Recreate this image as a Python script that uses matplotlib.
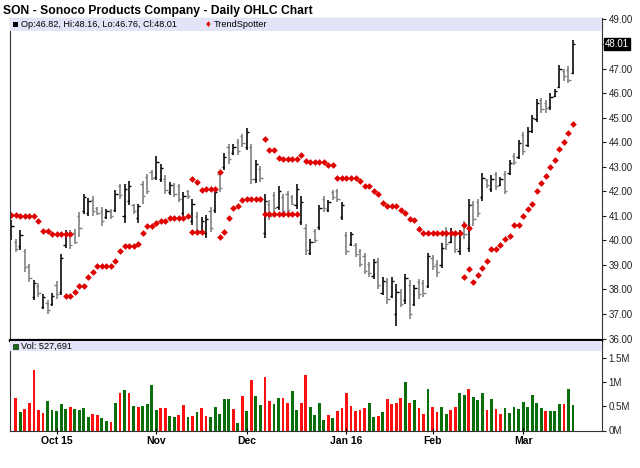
import matplotlib
matplotlib.use("Agg")
import matplotlib.pyplot as plt
import numpy as np
import pandas as pd
from matplotlib.patches import Rectangle

plt.rcParams["font.family"] = ["Liberation Sans", "DejaVu Sans"]

# ---- data (SON daily, 2015-09-17 .. 2016-03-16) ----
holidays = ["2015-11-26", "2015-12-25", "2016-01-01", "2016-01-18", "2016-02-15"]
dates = pd.bdate_range("2015-09-17", "2016-03-16", freq="C", holidays=holidays)
month_labels = ["Oct 15", "Nov", "Dec", "Jan 16", "Feb", "Mar"]

opens = [40.20, 39.95, 39.75, 39.55, 38.95, 37.70, 38.15, 37.30, 37.45, 37.40,
         38.20, 37.90, 39.80, 40.30, 40.30, 41.00, 41.20, 41.10, 41.65, 41.30,
         41.20, 40.95, 41.20, 41.25, 42.20, 41.00, 41.60, 41.45, 40.90, 42.30,
         42.60, 42.80, 42.60, 42.50, 42.50, 41.95, 42.25, 42.20, 41.10, 42.00,
         40.80, 41.00, 40.40, 40.30, 41.20, 41.25, 42.70, 43.00, 43.80, 43.55,
         44.00, 44.25, 43.80, 43.80, 42.50, 42.90, 40.30, 41.50, 41.85, 41.35,
         41.75, 41.90, 41.75, 41.45, 40.75, 40.50, 39.50, 40.40, 40.55, 41.70,
         41.25, 41.95, 42.00, 40.95, 40.20, 39.85, 39.80, 39.55, 39.35, 39.05,
         38.55, 39.15, 37.85, 38.30, 37.75, 37.00, 37.90, 37.55, 38.20, 37.40,
         38.30, 38.25, 38.15, 39.30, 39.05, 39.00, 40.40, 39.95, 40.20, 39.55,
         40.65, 39.70, 41.50, 41.55, 41.75, 42.45, 42.10, 42.70, 42.25, 42.70,
         42.75, 43.45, 43.40, 44.30, 43.90, 44.45, 44.95, 45.70, 45.60, 45.45,
         45.90, 46.25, 46.90, 46.95, 46.82]
highs = [40.82, 40.07, 40.41, 39.66, 39.05, 38.40, 38.26, 37.80, 37.55, 37.85,
         38.34, 39.43, 40.41, 40.41, 40.48, 41.16, 41.90, 41.74, 41.80, 41.36,
         41.36, 41.29, 41.29, 42.04, 42.31, 42.31, 42.41, 41.50, 41.50, 42.42,
         42.72, 42.88, 43.43, 43.10, 42.65, 42.38, 42.34, 42.31, 41.97, 42.07,
         41.70, 41.16, 40.95, 41.02, 41.36, 42.11, 42.79, 43.54, 43.92, 43.92,
         44.11, 44.35, 44.56, 43.92, 43.27, 43.02, 41.88, 41.63, 41.97, 42.20,
         41.88, 42.01, 41.84, 42.31, 41.80, 40.68, 40.07, 40.48, 41.43, 41.80,
         41.66, 42.04, 42.11, 41.55, 40.34, 40.34, 39.88, 39.66, 39.47, 39.12,
         39.25, 39.30, 38.49, 38.46, 38.49, 38.23, 38.03, 38.64, 38.37, 38.20,
         38.44, 38.37, 39.50, 39.41, 39.18, 39.88, 40.53, 40.50, 40.32, 40.43,
         40.78, 41.70, 41.62, 41.68, 42.75, 42.52, 42.65, 42.79, 42.59, 42.82,
         43.27, 43.54, 44.10, 44.42, 44.60, 45.10, 45.74, 45.78, 45.71, 45.99,
         46.15, 47.14, 47.00, 47.10, 48.16]
lows = [40.00, 39.52, 39.59, 38.71, 38.30, 37.55, 37.71, 37.21, 37.01, 37.31,
        37.62, 37.76, 39.70, 39.66, 39.84, 40.14, 41.06, 40.98, 40.98, 41.02,
        40.57, 40.88, 40.88, 41.16, 41.70, 40.71, 41.43, 41.09, 40.71, 41.50,
        41.90, 42.45, 42.45, 42.38, 41.90, 41.84, 41.77, 41.57, 40.95, 41.70,
        40.61, 40.25, 40.27, 40.11, 40.34, 41.12, 41.97, 42.88, 43.13, 43.47,
        43.47, 43.81, 43.67, 42.29, 42.34, 42.38, 40.11, 40.82, 41.09, 41.22,
        41.02, 41.06, 41.43, 41.29, 40.61, 39.39, 39.39, 39.89, 40.41, 41.16,
        41.16, 41.63, 41.57, 40.84, 39.39, 39.79, 39.32, 38.91, 38.62, 38.50,
        38.44, 38.00, 37.76, 37.40, 37.66, 36.53, 37.28, 37.42, 36.80, 37.31,
        37.62, 37.69, 38.04, 38.78, 38.50, 38.87, 39.62, 39.89, 39.49, 39.41,
        40.07, 39.52, 40.60, 40.95, 41.59, 42.15, 41.97, 42.07, 42.21, 41.89,
        42.67, 43.05, 43.30, 43.47, 43.80, 44.38, 44.83, 45.17, 45.20, 45.33,
        45.85, 46.19, 46.50, 46.42, 46.76]
closes = [40.60, 39.65, 40.20, 38.90, 38.45, 38.25, 37.85, 37.70, 37.15, 37.75,
          37.80, 39.30, 40.30, 39.80, 39.95, 40.50, 41.75, 41.60, 41.20, 41.10,
          40.80, 41.20, 41.00, 41.90, 41.85, 42.10, 42.20, 41.20, 41.40, 41.80,
          42.00, 42.55, 43.20, 42.95, 42.05, 42.25, 41.90, 41.70, 41.80, 41.80,
          41.50, 40.40, 40.80, 40.85, 40.50, 41.95, 42.15, 43.40, 43.30, 43.80,
          43.65, 43.95, 44.40, 42.50, 43.10, 42.55, 41.60, 41.00, 41.30, 42.00,
          41.20, 41.25, 41.50, 42.10, 41.55, 39.60, 39.95, 40.00, 41.30, 41.30,
          41.55, 41.75, 41.70, 41.45, 39.55, 40.25, 39.45, 39.05, 38.75, 38.65,
          39.10, 38.20, 38.35, 37.60, 38.35, 37.90, 37.40, 38.45, 37.00, 38.05,
          37.80, 37.85, 39.35, 38.95, 38.70, 39.70, 39.85, 40.35, 39.65, 40.30,
          40.25, 41.45, 40.85, 41.10, 42.55, 42.25, 42.50, 42.20, 42.50, 42.00,
          43.15, 43.20, 43.95, 43.65, 44.45, 45.00, 45.60, 45.35, 45.40, 45.85,
          46.10, 47.00, 46.70, 46.55, 48.01]

# TrendSpotter dots (two overlapping runs)
ts_upper = ([41.02, 41.02, 40.98, 40.98, 40.98, 40.98, 40.79, 40.37, 40.37, 40.27,
             40.27, 40.27, 40.25, 40.25]
            + [None] * 26
            + [42.52, 42.37, 42.07, 42.11, 42.11, 42.11, 42.79]
            + [None] * 9
            + [44.15, 43.70, 43.70, 43.37, 43.30, 43.30, 43.30, 43.30, 43.47, 43.22,
               43.20, 43.20, 43.20, 43.20, 43.09, 43.09, 42.56, 42.56, 42.56, 42.56,
               42.56, 42.41, 42.22, 42.22, 42.03, 41.88, 41.52, 41.39, 41.39, 41.39,
               41.23, 41.10, 40.87, 40.83, 40.46, 40.31, 40.31, 40.31, 40.31, 40.31,
               40.31, 40.31, 40.31, 40.31, 40.61, 40.49]
            + [None] * 23)
ts_lower = ([None] * 12
            + [37.74, 37.74, 37.88, 38.12, 38.15, 38.50, 38.70, 38.97, 38.97, 38.97,
               38.97, 39.16, 39.57, 39.76, 39.76, 39.76, 39.84, 40.30, 40.57, 40.57,
               40.71, 40.79, 40.79, 40.90, 40.90, 40.90, 40.93, 40.98, 40.34, 40.34,
               40.34]
            + [None] * 3
            + [40.13, 40.34, 40.91, 41.32, 41.40, 41.66, 41.70, 41.70, 41.70, 41.70,
               41.09, 41.09, 41.09, 41.09, 41.09, 41.09, 41.09, 41.09]
            + [None] * 36
            + [38.51, 38.83, 38.30, 38.58, 38.89, 39.16, 39.66, 39.66, 39.83, 40.05,
               40.16, 40.61, 40.61, 40.98, 41.28, 41.50, 42.01, 42.35, 42.61, 42.97,
               43.29, 43.73, 44.00, 44.38, 44.76])

# volume in millions (first bar has no visible volume)
volume = [None,
          0.68, 0.375, 0.45, 0.57, 1.25, 0.43, 0.36, 0.62, 0.43, 0.41,
          0.54, 0.45, 0.49, 0.45, 0.43, 0.47, 0.29, 0.35, 0.33, 0.26,
          0.20, 0.17, 0.58, 0.78, 0.83, 0.78, 0.51, 0.49, 0.51, 0.54,
          0.94, 0.43, 0.47, 0.47, 0.31, 0.28, 0.33, 0.52, 0.28, 0.31,
          0.375, 0.47, 0.31, 0.29, 0.49, 0.35, 0.66, 0.66, 0.45, 0.15,
          0.72, 0.41, 1.04, 0.72, 0.52, 1.10, 0.62, 0.54, 0.68, 0.68,
          0.58, 0.81, 0.43, 0.58, 1.15, 0.49, 0.33, 0.56, 0.22, 0.33,
          0.26, 0.41, 0.47, 0.78, 0.51, 0.41, 0.43, 0.47, 0.58, 0.27,
          0.31, 0.39, 0.66, 0.54, 0.56, 0.68, 1.00, 0.58, 0.63, 0.46,
          0.34, 0.87, 0.48, 0.38, 0.48, 0.34, 0.42, 0.49, 0.78, 0.73,
          0.85, 0.70, 0.63, 0.78, 0.42, 0.65, 0.44, 0.34, 0.46, 0.36,
          0.49, 0.44, 0.59, 0.49, 0.73, 0.57, 0.46, 0.40, 0.40, 0.40,
          0.55, 0.55, 0.85, 0.527691]
vol_dir = ("-"
           "rgrrrrrgggggrggggrrggrgrgrgrggggrrggrrgrg"
           "rrgggggrgrgrggrrggrrggrrggggrgrrrrrrrggrgrrrrg"
           "rgrrgrrggrrggrgggrgrrgggggggggrgggrgg")

# ---- layout helpers (pixel boxes on a 640x468 canvas) ----
W, H = 640, 468


def box(x0, y0, x1, y1):
    return [x0 / W, 1 - y1 / H, (x1 - x0) / W, (y1 - y0) / H]


def fx(px):
    return px / W


def fy(py):
    return 1 - py / H


o = np.array(opens); h = np.array(highs); l = np.array(lows); c = np.array(closes)
n = len(c)
x = np.arange(n)
up_ts = np.array(ts_upper, dtype=float)
lo_ts = np.array(ts_lower, dtype=float)
vol = np.array(volume, dtype=float)
month_pos = [i for i in range(1, n) if dates[i].month != dates[i - 1].month]

fig = plt.figure(figsize=(6.4, 4.68), dpi=100)
ax = fig.add_axes(box(9.5, 18, 601.5, 339.5))
axv = fig.add_axes(box(9.5, 340.5, 601.5, 430.5))

# ---- price panel ----
bar_col = np.where(c >= o, "#000000", "#7c7c7c")
ax.vlines(x, l, h, colors=bar_col, lw=1.15)
ax.hlines(o, x - 0.5, x, colors=bar_col, lw=1.0)
ax.hlines(c, x, x + 0.5, colors=bar_col, lw=1.0)
ax.plot(x, up_ts, ls="none", marker="D", ms=3.4, color="#e00000", mew=0)
ax.plot(x, lo_ts, ls="none", marker="D", ms=3.4, color="#e00000", mew=0)

xlim = (-0.4, 130.3)
ax.set_xlim(*xlim)
ax.set_ylim(35.96, 49.06)
ax.yaxis.tick_right()
ax.set_yticks(np.arange(36, 50, 1.0))
last_close = c[-1]
ax.yaxis.set_major_formatter(
    lambda v, p: "" if abs(v - last_close) < 0.5 else f"{v:.2f}")
ax.tick_params(axis="y", direction="out", length=3, width=0.8, labelsize=7, pad=2,
               colors="#222222")
ax.tick_params(axis="x", bottom=False, labelbottom=False)
for s in ax.spines.values():
    s.set_linewidth(0.8)
    s.set_color("#333333")
ax.spines["bottom"].set_linewidth(1.6)
ax.spines["bottom"].set_color("black")

band_h = 13 / 321.5
ax.add_patch(Rectangle((0, 1 - band_h), 1, band_h, transform=ax.transAxes,
                       fc="#e4e4f8", ec="none", zorder=3))

# ---- volume panel ----
mask = ~np.isnan(vol)
vcols = ["#ff1010" if d == "r" else "#0a6e0a" for d in vol_dir]
axv.bar(x[mask], vol[mask], width=0.62, color=np.array(vcols)[mask], linewidth=0)
axv.set_xlim(*xlim)
axv.set_ylim(0, 1.865)
axv.yaxis.tick_right()
axv.set_yticks([0, 0.5, 1.0, 1.5])
axv.set_yticklabels(["0M", "0.5M", "1M", "1.5M"])
axv.tick_params(axis="y", direction="out", length=3, width=0.8, labelsize=7, pad=2,
                colors="#222222")
axv.set_xticks(month_pos)
axv.set_xticklabels(month_labels, fontweight="bold", fontsize=7.5)
axv.tick_params(axis="x", direction="inout", length=4, width=0.8, pad=2)
for s in axv.spines.values():
    s.set_linewidth(0.8)
    s.set_color("#333333")
axv.spines["top"].set_linewidth(1.6)
axv.spines["top"].set_color("black")
vband_h = 10 / 90
axv.add_patch(Rectangle((0, 1 - vband_h), 1, vband_h, transform=axv.transAxes,
                        fc="#e4e4f8", ec="none", zorder=3))

# ---- texts ----
fig.text(fx(3), fy(11), "SON - Sonoco Products Company - Daily OHLC Chart",
         fontsize=8.7, fontweight="bold", va="center", ha="left")

fig.patches.append(Rectangle((fx(13), fy(27)), 5 / W, 5 / H, transform=fig.transFigure,
                             fc="black", ec="none", figure=fig))
fig.text(fx(21), fy(24.5),
         f"Op:{o[-1]:.2f}, Hi:{h[-1]:.2f}, Lo:{l[-1]:.2f}, Cl:{c[-1]:.2f}",
         fontsize=6.6, va="center", ha="left")
fig.text(fx(208), fy(24.5), "\u2666", color="#e00000", fontsize=5.5,
         va="center", ha="center", family="DejaVu Sans")
fig.text(fx(214), fy(24.5), "TrendSpotter", fontsize=6.6, va="center", ha="left")

fig.patches.append(Rectangle((fx(13), fy(348.5)), 5 / W, 5 / H, transform=fig.transFigure,
                             fc="#0a6e0a", ec="black", lw=0.4, figure=fig))
fig.text(fx(21), fy(346), f"Vol: {vol[-1] * 1e6:,.0f}", fontsize=6.6,
         va="center", ha="left")

fig.text(fx(605), fy(44), f"{last_close:.2f}", color="white", fontsize=7,
         va="center", ha="left",
         bbox=dict(boxstyle="square,pad=0.12", fc="black", ec="black"))

fig.savefig("out.png", dpi=100)
